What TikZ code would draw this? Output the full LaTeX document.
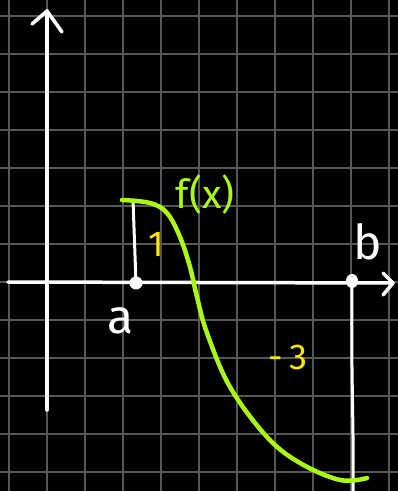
\documentclass[tikz,border=0pt]{standalone}
\usepackage{fontspec}
\usetikzlibrary{shapes.geometric}
\setsansfont{Fira Sans}
\definecolor{gridgray}{RGB}{88,88,88}
\definecolor{curvegreen}{RGB}{170,250,20}
\definecolor{labelyellow}{RGB}{255,232,0}
\tikzset{
  gridline/.style={draw=gridgray,line width=1.3pt},
  axisline/.style={draw=white,line width=3.5pt,line cap=round,line join=round},
  curveline/.style={draw=curvegreen,line width=4.5pt,line cap=round},
  dotnode/.style={circle,draw=white,fill=white,line width=1pt,inner sep=0pt,minimum size=12pt},
  whitelab/.style={text=white,font=\sffamily\fontsize{48}{48}\selectfont,inner sep=0pt},
  yellowlab/.style={text=labelyellow,font=\sffamily\fontsize{36}{36}\selectfont,inner sep=0pt},
  greenlab/.style={text=curvegreen,font=\sffamily\fontsize{40}{40}\selectfont,inner sep=0pt}
}
\begin{document}
\begin{tikzpicture}[x=1pt,y=-1pt]
\fill[black] (0,0) rectangle (398,491);
\useasboundingbox (0,0) rectangle (398,491);
% grid
\foreach \i in {0,...,10} \draw[gridline] ({9+38*\i},0) -- ({9+38*\i},491);
\foreach \j in {0,...,12} \draw[gridline] (0,{16+38*\j}) -- (398,{16+38*\j});
% axes
\coordinate (ybot) at (47,410);
\coordinate (ytop) at (47,11);
\coordinate (yl) at (32,24);
\coordinate (yr) at (62,32);
\coordinate (xl) at (8,282);
\coordinate (xr) at (393,283);
\coordinate (xu) at (383,273);
\coordinate (xd) at (383,295);
\draw[axisline] (ybot) -- (ytop);
\draw[axisline] (yl) -- (ytop) -- (yr);
\draw[axisline] (xl) -- (xr);
\draw[axisline] (xu) -- (xr) -- (xd);
% a and b
\coordinate (atop) at (133,200);
\coordinate (bbot) at (353,491);
\node[dotnode] (pa) at (136,283) {};
\node[dotnode,ellipse,minimum height=13pt,minimum width=11pt] (pb) at (352,281) {};
\draw[axisline,line width=3pt] (atop) -- (pa);
\draw[axisline,line width=3pt] (pb) .. controls (351,380) and (354,430) .. (bbot);
% curve
\draw[curveline] plot[smooth,tension=0.6] coordinates {(122,200) (150,203) (167,213) (180,237) (190,267) (197,297) (207,333) (230,387) (267,437) (300,463) (340,480) (367,478)};
% labels
\node[whitelab] (la) at (121,321) {a};
\node[whitelab] (lb) at (368,242) {b};
\node[greenlab] (lf) at (205,194) {f(x)};
\node[yellowlab] (l1) at (156,244) {1};
\node[yellowlab] (l3) at (288,357) {-\kern6pt3};
\end{tikzpicture}
\end{document}
